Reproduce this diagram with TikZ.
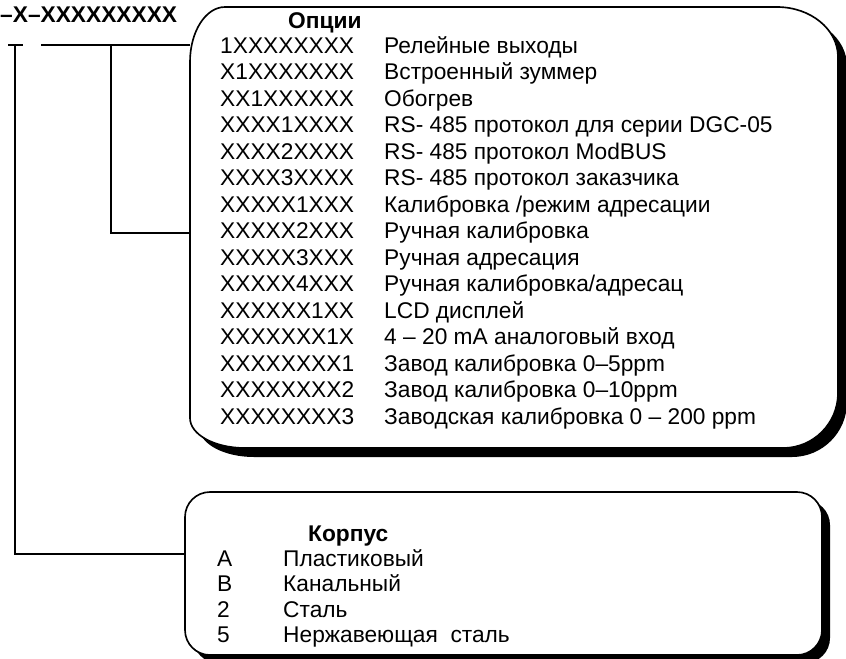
\documentclass[tikz,border=0pt]{standalone}
\usepackage{fontspec}
\setmainfont{Liberation Sans}

% option box outline, corners of unequal size
\newcommand{\optbox}[1]{%
  \path[#1] (225,7) -- (777,7)
    .. controls (810.7,7) and (838,29.4) .. (838,57) -- (838,393)
    .. controls (838,423.4) and (813.4,448) .. (783,448) -- (245,448)
    .. controls (214.6,448) and (190,434.6) .. (190,418) -- (190,62)
    .. controls (190,31.6) and (205.7,7) .. (225,7) -- cycle;}
% housing box outline
\newcommand{\casebox}[1]{%
  \path[rounded corners=0.75cm, #1] (185,492) rectangle (822,655);}

\begin{document}
\begin{tikzpicture}[x=0.03cm,y=-0.03cm,
  wire/.style={line width=1.6pt},
  frame/.style={fill=white, draw=black, line width=1.4pt},
  txt/.style={font=\fontsize{19.4}{22}\selectfont, anchor=base west, inner sep=0pt},
  head/.style={txt, font=\fontsize{19.4}{22}\selectfont\bfseries}]

\useasboundingbox (0,0) rectangle (846,658);

% boxes with their shadows
\optbox{shift={(9,9)}, fill=black}
\optbox{frame}
\casebox{shift={(8,8)}, fill=black}
\casebox{frame}

% order code
\node[head] (code) at (0,22) {–X–XXXXXXXXX};

\coordinate (tickl) at (8,45);
\coordinate (tickr) at (23,45);
\coordinate (casetop) at (15,45);
\coordinate (casein) at (185,554);
\coordinate (optstart) at (41,45);
\coordinate (optin) at (190,45);
\coordinate (calfork) at (111,45);
\coordinate (calin) at (190,233);

\draw[wire] (tickl) -- (tickr);
\draw[wire] (casetop) |- (casein);
\draw[wire] (optstart) -- (optin);
\draw[wire] (calfork) |- (calin);

% options
\node[head] (opthead) at (288,28) {Опции};
\foreach \code/\desc [count=\i from 0] in {
  1XXXXXXXX/Релейные выходы,
  X1XXXXXXX/Встроенный зуммер,
  XX1XXXXXX/Обогрев,
  XXXX1XXXX/RS- 485 протокол для серии DGC-05,
  XXXX2XXXX/RS- 485 протокол ModBUS,
  XXXX3XXXX/RS- 485 протокол заказчика,
  XXXXX1XXX/{Калибровка /режим адресации},
  XXXXX2XXX/Ручная калибровка,
  XXXXX3XXX/Ручная адресация,
  XXXXX4XXX/{Ручная калибровка/адресац},
  XXXXXX1XX/LCD дисплей,
  XXXXXXX1X/4 – 20 mA аналоговый вход,
  XXXXXXXX1/Завод калибровка 0–5ppm,
  XXXXXXXX2/Завод калибровка 0–10ppm,
  XXXXXXXX3/Заводская калибровка 0 – 200 ppm}
{
  \node[txt] (opt\i) at (220,{53+26.5*\i}) {\code};
  \node[txt] (optd\i) at (384,{53+26.5*\i}) {\desc};
}

% housing
\node[head] (casehead) at (308,541) {Корпус};
\foreach \code/\desc [count=\i from 0] in {
  A/Пластиковый, B/Канальный, 2/Сталь, 5/{Нержавеющая~ сталь}}
{
  \node[txt] (case\i) at (217,{566+25.5*\i}) {\code};
  \node[txt] (cased\i) at (283,{566+25.5*\i}) {\desc};
}

\end{tikzpicture}
\end{document}
